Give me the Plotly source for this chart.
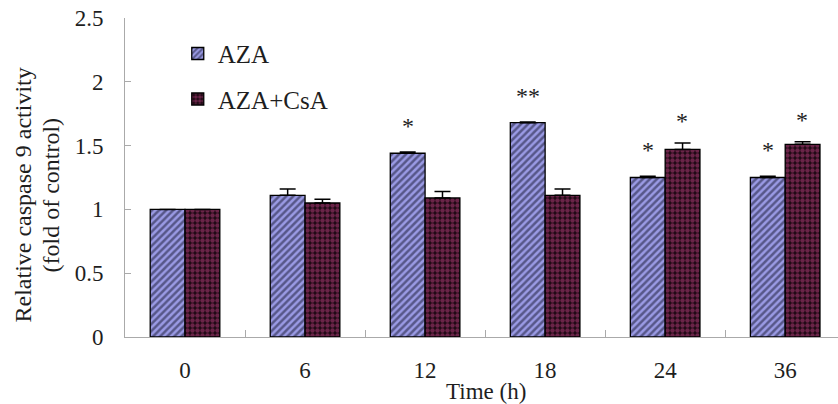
import plotly.graph_objects as go

time_labels = ["0", "6", "12", "18", "24", "36"]
aza = [1.00, 1.11, 1.44, 1.68, 1.25, 1.25]
aza_err = [0.0, 0.05, 0.01, 0.005, 0.01, 0.01]
aza_sig = ["", "", "*", "**", "*", "*"]
csa = [1.00, 1.05, 1.09, 1.11, 1.47, 1.51]
csa_err = [0.0, 0.03, 0.05, 0.05, 0.05, 0.02]
csa_sig = ["", "", "", "", "*", "*"]

serif = "Liberation Serif, Times New Roman, serif"
ink = "#1e1e1e"

fig = go.Figure()
fig.add_trace(go.Bar(
    name="AZA", x=time_labels, y=aza, legendgroup="a",
    error_y=dict(type="data", array=aza_err, arrayminus=[0] * 6, color="black", thickness=1.5, width=8),
    marker=dict(color="#9898e0", line=dict(color="black", width=1.3),
                pattern=dict(shape="/", fgcolor="#14142e", bgcolor="#9a9ae4", size=5, solidity=0.5)),
))
fig.add_trace(go.Bar(
    name="AZA+CsA", x=time_labels, y=csa, legendgroup="b",
    error_y=dict(type="data", array=csa_err, arrayminus=[0] * 6, color="black", thickness=1.5, width=8),
    marker=dict(color="#7a2450", line=dict(color="black", width=1.3),
                pattern=dict(shape=".", fgcolor="#b8407e", bgcolor="#1c0812", size=5, solidity=0.62)),
))

# significance marks above each bar (category index used for x)
for i in range(len(time_labels)):
    if aza_sig[i]:
        fig.add_annotation(x=i, y=aza[i] + aza_err[i], text=aza_sig[i], showarrow=False,
                           xshift=-17, yshift=26, font=dict(family=serif, size=24, color=ink))
    if csa_sig[i]:
        fig.add_annotation(x=i, y=csa[i] + csa_err[i], text=csa_sig[i], showarrow=False,
                           xshift=17, yshift=22, font=dict(family=serif, size=24, color=ink))

# y-axis title, two lines
fig.add_annotation(xref="paper", yref="paper", x=0, y=0.5, xshift=-103, yshift=-18,
                   xanchor="center", yanchor="middle", textangle=-90,
                   text="Relative caspase 9 activity", showarrow=False,
                   font=dict(family=serif, size=24, color=ink))
fig.add_annotation(xref="paper", yref="paper", x=0, y=0.5, xshift=-75, yshift=-18,
                   xanchor="center", yanchor="middle", textangle=-90,
                   text="(fold of control)", showarrow=False,
                   font=dict(family=serif, size=24, color=ink))
# x-axis title
fig.add_annotation(xref="paper", yref="paper", x=(486 - 125) / 713, y=0, yshift=-54,
                   xanchor="center", yanchor="middle",
                   text="Time (h)", showarrow=False,
                   font=dict(family=serif, size=23, color=ink))

fig.update_layout(
    width=838, height=404,
    margin=dict(l=125, r=0, t=18, b=67),
    paper_bgcolor="white", plot_bgcolor="white",
    barmode="group", bargap=0.42, bargroupgap=0,
    font=dict(family=serif, size=23, color=ink),
    showlegend=True,
    legend=dict(x=0.074, y=0.96, xanchor="left", yanchor="top", bgcolor="rgba(0,0,0,0)",
                tracegroupgap=10, font=dict(family=serif, size=25, color=ink), itemwidth=30),
    xaxis=dict(type="category", range=[-0.5, 5.44], showline=True, linecolor="#aaa", linewidth=1,
               ticks="inside", tickson="boundaries", ticklen=7, tickcolor="#aaa",
               ticklabelstandoff=12, tickfont=dict(family=serif, size=23, color=ink)),
    yaxis=dict(range=[0, 2.5], dtick=0.5, showline=True, linecolor="#aaa", linewidth=1,
               showgrid=False, zeroline=False, ticks="inside", ticklen=6, tickcolor="#aaa",
               ticklabelstandoff=16, tickformat="~g", tickfont=dict(family=serif, size=23, color=ink)),
)

fig.write_html("out.html")
